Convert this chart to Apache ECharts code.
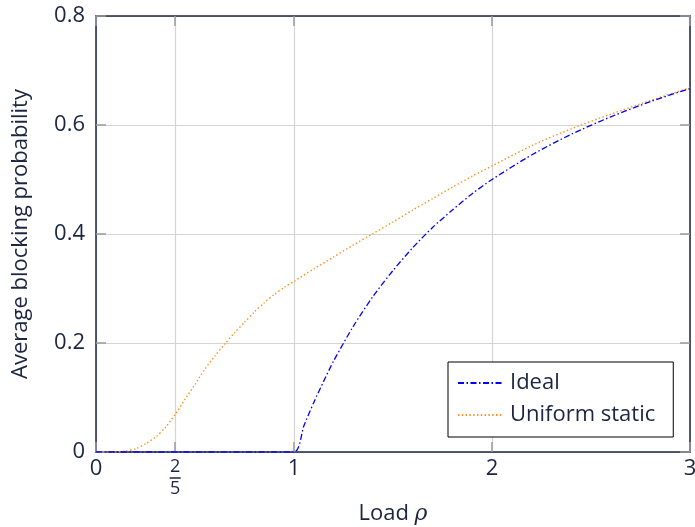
<!DOCTYPE html>
<html>
<head>
<meta charset="utf-8">
<script src="https://cdn.jsdelivr.net/npm/echarts@6/dist/echarts.min.js"></script>
<style>
  html, body { margin: 0; padding: 0; background: #fff; }
  #chart { width: 695px; height: 527px; }
</style>
</head>
<body>
<div id="chart"></div>
<script>
// Load values and blocking probabilities
const idealLoad = [0, 0.5, 1.0, 1.05, 1.1, 1.15, 1.2, 1.3, 1.4, 1.5, 1.6, 1.7, 1.8, 1.9, 2.0, 2.2, 2.4, 2.6, 2.8, 3.0];
const idealBlocking = [0, 0, 0, 0.048, 0.091, 0.13, 0.167, 0.231, 0.286, 0.333, 0.375, 0.412, 0.444, 0.474, 0.5, 0.545, 0.583, 0.615, 0.643, 0.667];

const uniformLoad = [0, 0.1, 0.15, 0.2, 0.25, 0.3, 0.35, 0.4, 0.45, 0.5, 0.55, 0.6, 0.65, 0.7, 0.75, 0.8, 0.85, 0.9, 0.95, 1.0, 1.1, 1.2, 1.3, 1.4, 1.5, 1.6, 1.7, 1.8, 1.9, 2.0, 2.2, 2.4, 2.6, 2.8, 3.0];
const uniformBlocking = [0, 0, 0.002, 0.006, 0.015, 0.027, 0.045, 0.069, 0.097, 0.124, 0.152, 0.176, 0.198, 0.219, 0.238, 0.257, 0.274, 0.289, 0.302, 0.313, 0.336, 0.358, 0.380, 0.401, 0.422, 0.444, 0.465, 0.486, 0.506, 0.525, 0.562, 0.593, 0.620, 0.645, 0.668];

const xTicks = [0, 0.4, 1, 2, 3];

const seriesNames = ['Ideal', 'Uniform static'];

const ink = '#1c2541';
const fontFamily = '"Open Sans", "DejaVu Sans", sans-serif';

const pairs = (xs, ys) => xs.map((x, i) => [x, ys[i]]);

const tickStyle = { show: true, inside: true, length: 10, lineStyle: { color: '#9a9a9a', width: 1.5 } };
const gridStyle = { show: true, lineStyle: { color: '#d4d4d4', width: 1.2 } };
const frameLine = { show: true, onZero: false, lineStyle: { color: ink, width: 1.5 } };

const chart = echarts.init(document.getElementById('chart'), null, { renderer: 'canvas' });

chart.setOption({
  animation: false,
  backgroundColor: '#fff',
  textStyle: { fontFamily: fontFamily },
  grid: { left: 96, right: 5, top: 16, bottom: 75, containLabel: false, outerBoundsMode: 'none' },
  legend: {
    orient: 'vertical',
    left: 448,
    top: 362,
    data: seriesNames,
    backgroundColor: '#fff',
    borderColor: '#000',
    borderWidth: 1,
    borderRadius: 0,
    padding: [10, 18, 11, 9],
    itemGap: 10,
    itemWidth: 45,
    itemHeight: 22,
    itemStyle: { opacity: 0 },
    textStyle: { color: ink, fontSize: 22, fontFamily: fontFamily, padding: [0, 0, 0, 2] }
  },
  xAxis: [
    {
      type: 'value', position: 'bottom', min: 0, max: 3,
      name: '{a|Load }{b|ρ}',
      nameLocation: 'middle', nameGap: 50,
      nameTextStyle: {
        rich: {
          a: { fontSize: 22, color: ink, fontFamily: fontFamily },
          b: { fontSize: 22, color: ink, fontStyle: 'italic', fontFamily: '"DejaVu Serif", serif' }
        }
      },
      axisLine: frameLine,
      axisTick: Object.assign({ customValues: xTicks }, tickStyle),
      splitLine: gridStyle,
      axisLabel: {
        customValues: xTicks,
        margin: 6,
        color: ink,
        fontSize: 22,
        fontFamily: fontFamily,
        verticalAlign: 'top',
        formatter: function (v) {
          if (Math.abs(v - 0.4) < 1e-9) return '{n|2}\n{bar| }\n{d|5}';
          return String(v);
        },
        rich: {
          n: { fontSize: 18, color: ink, lineHeight: 18, align: 'center' },
          bar: { width: 11, height: 1.5, backgroundColor: ink, lineHeight: 4, fontSize: 1 },
          d: { fontSize: 18, color: ink, lineHeight: 18, align: 'center' }
        }
      }
    },
    {
      type: 'value', position: 'top', min: 0, max: 3,
      axisLine: frameLine,
      axisTick: Object.assign({ customValues: xTicks }, tickStyle),
      splitLine: { show: false },
      axisLabel: { show: false }
    }
  ],
  yAxis: [
    {
      type: 'value', position: 'left', min: 0, max: 0.8, interval: 0.2,
      name: 'Average blocking probability',
      nameLocation: 'middle', nameGap: 64,
      nameTextStyle: { color: ink, fontSize: 22, fontFamily: fontFamily },
      axisLine: frameLine,
      axisTick: tickStyle,
      splitLine: gridStyle,
      axisLabel: {
        color: ink, fontSize: 22, margin: 11, fontFamily: fontFamily,
        formatter: function (v) { return v === 0 ? '0' : v.toFixed(1); }
      }
    },
    {
      type: 'value', position: 'right', min: 0, max: 0.8, interval: 0.2,
      axisLine: frameLine,
      axisTick: tickStyle,
      splitLine: { show: false },
      axisLabel: { show: false }
    }
  ],
  series: [
    {
      name: seriesNames[0],
      type: 'line',
      data: pairs(idealLoad, idealBlocking),
      showSymbol: false,
      symbol: 'none',
      smooth: 0.25,
      color: '#0000ff',
      lineStyle: { color: '#0000ff', width: 1.3, type: [6, 2.5, 1.5, 2.5] },
      z: 3
    },
    {
      name: seriesNames[1],
      type: 'line',
      data: pairs(uniformLoad, uniformBlocking),
      showSymbol: false,
      symbol: 'none',
      smooth: 0.25,
      color: '#ff8c1a',
      lineStyle: { color: '#ff8c1a', width: 1.4, type: [1.4, 2.4] },
      z: 2
    }
  ]
});
</script>
</body>
</html>
